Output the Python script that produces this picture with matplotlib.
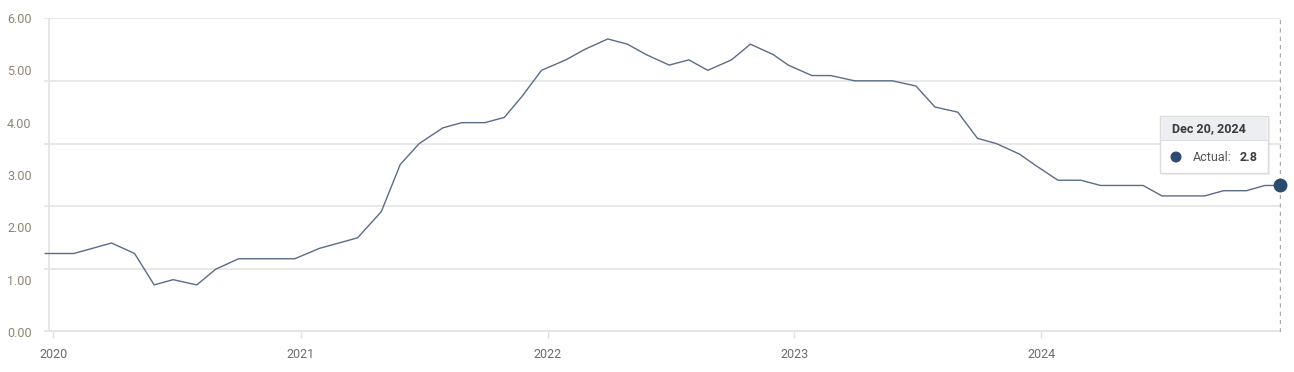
import numpy as np
import pandas as pd
import matplotlib
matplotlib.use("Agg")
import matplotlib.pyplot as plt
from matplotlib.patches import Rectangle, Ellipse

plt.rcParams['font.family'] = ['Roboto', 'DejaVu Sans']

# ---------------------------------------------------------------- data ----#
release_dates = [
    "2019-12-20", "2020-01-31", "2020-02-28", "2020-03-27", "2020-04-30",
    "2020-05-29", "2020-06-26", "2020-07-31", "2020-08-28", "2020-10-01",
    "2020-10-30", "2020-11-25", "2020-12-23", "2021-01-29", "2021-02-26",
    "2021-03-26", "2021-04-30", "2021-05-28", "2021-06-25", "2021-07-30",
    "2021-08-27", "2021-09-30", "2021-10-29", "2021-11-24", "2021-12-23",
    "2022-01-28", "2022-02-25", "2022-03-31", "2022-04-29", "2022-05-27",
    "2022-06-30", "2022-07-29", "2022-08-26", "2022-09-30", "2022-10-28",
    "2022-12-01", "2022-12-23", "2023-01-27", "2023-02-24", "2023-03-31",
    "2023-04-28", "2023-05-26", "2023-06-30", "2023-07-28", "2023-08-31",
    "2023-09-29", "2023-10-27", "2023-11-30", "2023-12-22", "2024-01-26",
    "2024-02-29", "2024-03-29", "2024-04-26", "2024-05-31", "2024-06-28",
    "2024-07-26", "2024-08-30", "2024-09-27", "2024-10-31", "2024-11-27",
    "2024-12-20",
]
actual = [
    1.5, 1.5, 1.6, 1.7, 1.5, 0.9, 1.0, 0.9, 1.2, 1.4,
    1.4, 1.4, 1.4, 1.6, 1.7, 1.8, 2.3, 3.2, 3.6, 3.9,
    4.0, 4.0, 4.1, 4.5, 5.0, 5.2, 5.4, 5.6, 5.5, 5.3,
    5.1, 5.2, 5.0, 5.2, 5.5, 5.3, 5.1, 4.9, 4.9, 4.8,
    4.8, 4.8, 4.7, 4.3, 4.2, 3.7, 3.6, 3.4, 3.2, 2.9,
    2.9, 2.8, 2.8, 2.8, 2.6, 2.6, 2.6, 2.7, 2.7, 2.8,
    2.8,
]
y_ticks = [0, 1, 2, 3, 4, 5, 6]
grid_levels = [1.2, 2.4, 3.6, 4.8, 6.0]
years = ["2020", "2021", "2022", "2023", "2024"]

dates = pd.to_datetime(release_dates)

# ---------------------------------------------------------------- figure --#
W, H = 1294, 372
fig = plt.figure(figsize=(W / 100, H / 100), dpi=100)
ax = fig.add_axes([44 / W, 40 / H, (1281 - 44) / W, (332 - 18) / H])

def px(x, y):
    # pixel (from top-left) -> figure fraction
    return x / W, 1 - y / H

ax.set_xlim(pd.Timestamp("2019-12-18"), pd.Timestamp("2024-12-21"))
ax.set_ylim(0, 6)

for s in ax.spines.values():
    s.set_visible(False)

# grid lines (not aligned with the labels, as in the original)
for g in grid_levels:
    ax.axhline(g, color="#e6e6e6", lw=1.3, zorder=1)
ax.axhline(0, color="#e2e2e2", lw=2.6, zorder=1)
ax.axvline(pd.Timestamp("2019-12-25"), color="#e3e3e3", lw=1.2, zorder=1)

# crosshair at the last point
ax.axvline(dates[-1], color="#aaaaaa", lw=1, ls=(0, (3, 3)), zorder=2)

ax.plot(dates, actual, color="#5a6c89", lw=1.0, zorder=3)
ax.plot(dates[-1:], actual[-1:], "o", color="#2d4a70", ms=9, zorder=4,
        clip_on=False)

# y labels
ax.set_yticks(y_ticks)
ax.set_yticklabels(["{:.2f}".format(v) for v in y_ticks])
ax.tick_params(axis="y", length=0, pad=9, labelsize=9, labelcolor="#8f8473")

# x labels
ax.set_xticks([pd.Timestamp(y + "-01-01") for y in years])
ax.set_xticklabels(years)
ax.tick_params(axis="x", length=4.5, width=1, color="#dddddd", pad=7,
               labelsize=9, labelcolor="#6b6b6b")

# ---------------------------------------------------------------- tooltip -#
bx0, by0, bx1, by1 = 1160, 116, 1268, 173
hdr = 141
shadow = Rectangle(px(bx0 + 2, by1 + 2), (bx1 - bx0) / W, (by1 - by0) / H,
                   transform=fig.transFigure, facecolor="#000000", alpha=0.06,
                   edgecolor="none", zorder=9)
box = Rectangle(px(bx0, by1), (bx1 - bx0) / W, (by1 - by0) / H,
                transform=fig.transFigure, facecolor="white",
                edgecolor="#dcdcdc", lw=1, zorder=10)
head = Rectangle(px(bx0 + 1, hdr), (bx1 - bx0 - 2) / W, (hdr - by0 - 1) / H,
                 transform=fig.transFigure, facecolor="#eceef1",
                 edgecolor="none", zorder=11)
for p in (shadow, box, head):
    fig.add_artist(p)
fig.add_artist(Rectangle(px(bx0, hdr), (bx1 - bx0) / W, 1 / H,
                         transform=fig.transFigure, facecolor="#dedede",
                         edgecolor="none", zorder=12))

fig.text(*px(1172, 129), "Dec 20, 2024", fontsize=9, fontweight="bold",
         color="#3a3a3a", va="center", ha="left", zorder=13)
fig.add_artist(Ellipse(px(1176, 157), 11 / W, 11 / H, transform=fig.transFigure,
                       facecolor="#2d4a70", edgecolor="none", zorder=13))
fig.text(*px(1193, 157), "Actual:", fontsize=9, color="#555555",
         va="center", ha="left", zorder=13)
fig.text(*px(1240, 157), "2.8", fontsize=9, fontweight="bold",
         color="#3a3a3a", va="center", ha="left", zorder=13)

fig.savefig("out.png", dpi=100)
